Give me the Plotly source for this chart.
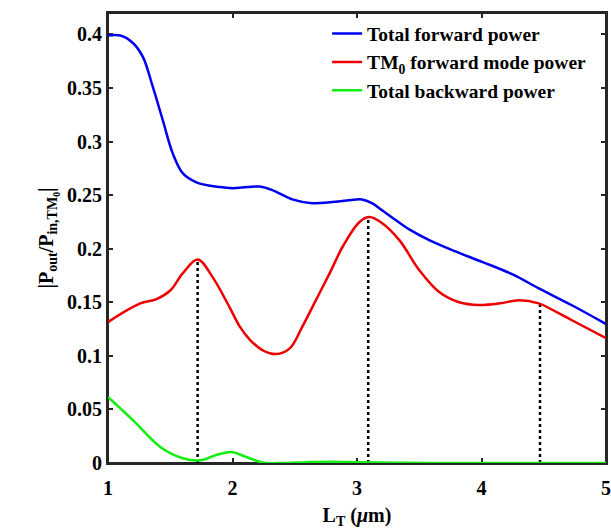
import plotly.graph_objects as go

# Data
x_fwd = [1.0, 1.1, 1.2, 1.28, 1.36, 1.44, 1.52, 1.60, 1.71, 1.90, 2.0, 2.12, 2.22, 2.32, 2.48, 2.64, 2.80, 2.92, 3.04, 3.12, 3.20, 3.29, 3.42, 3.58, 3.80, 4.01, 4.25, 4.46, 4.73, 5.0]
y_fwd = [0.399, 0.399, 0.392, 0.379, 0.351, 0.320, 0.289, 0.2705, 0.262, 0.2575, 0.2565, 0.2575, 0.258, 0.2547, 0.246, 0.2425, 0.2435, 0.245, 0.246, 0.2425, 0.236, 0.2285, 0.218, 0.208, 0.197, 0.1875, 0.176, 0.163, 0.147, 0.1297]

x_tm0 = [1.0, 1.1, 1.26, 1.39, 1.5, 1.60, 1.72, 1.84, 1.98, 2.06, 2.14, 2.24, 2.35, 2.46, 2.56, 2.67, 2.78, 2.89, 3.02, 3.10, 3.20, 3.34, 3.5, 3.66, 3.82, 3.98, 4.15, 4.30, 4.46, 4.6, 4.73, 5.0]
y_tm0 = [0.1315, 0.139, 0.149, 0.153, 0.161, 0.177, 0.190, 0.1735, 0.1446, 0.127, 0.115, 0.1054, 0.1017, 0.107, 0.127, 0.152, 0.177, 0.203, 0.225, 0.2295, 0.224, 0.208, 0.18, 0.1595, 0.150, 0.1474, 0.149, 0.152, 0.149, 0.141, 0.133, 0.1166]

x_bwd = [1.0, 1.2, 1.42, 1.6, 1.74, 1.87, 1.99, 2.11, 2.24, 2.4, 2.6, 2.8, 3.0, 3.3, 3.6, 4.0, 4.5, 5.0]
y_bwd = [0.0616, 0.040, 0.015, 0.0045, 0.0025, 0.0075, 0.0103, 0.0056, 0.0005, 0.0, 0.0008, 0.0012, 0.0008, 0.0003, 0.0, 0.0, 0.0, 0.0]

peak_x = [1.72, 3.09, 4.47]
peak_y = [0.190, 0.229, 0.149]

x_ticks = [1, 2, 3, 4, 5]
y_ticks = [0, 0.05, 0.1, 0.15, 0.2, 0.25, 0.3, 0.35, 0.4]
y_ticktext = ["0", "0.05", "0.1", "0.15", "0.2", "0.25", "0.3", "0.35", "0.4"]
x_range = [1, 5]
y_range = [0, 0.42]

FONT = "Liberation Serif"
AXC = "#262626"

fig = go.Figure()

for px, py in zip(peak_x, peak_y):
    fig.add_trace(go.Scatter(x=[px, px], y=[0, py], mode="lines",
                             line=dict(color="black", width=2.5, dash="dot"),
                             showlegend=False, hoverinfo="skip"))

fig.add_trace(go.Scatter(x=x_fwd, y=y_fwd, mode="lines", name="Total forward power",
                         line=dict(color="#0000ee", width=2.5, shape="spline", smoothing=1.0)))
fig.add_trace(go.Scatter(x=x_tm0, y=y_tm0, mode="lines", name="TM<sub>0</sub> forward mode power",
                         line=dict(color="#ee0000", width=2.5, shape="spline", smoothing=1.0)))
fig.add_trace(go.Scatter(x=x_bwd, y=y_bwd, mode="lines", name="Total backward power",
                         line=dict(color="#11ee11", width=2.5, shape="spline", smoothing=1.0)))

axis_common = dict(showline=True, linecolor=AXC, linewidth=2, mirror="allticks",
                   ticks="inside", ticklen=5, tickwidth=2, tickcolor=AXC,
                   showgrid=False, zeroline=False, layer="below traces",
                   tickfont=dict(family=FONT, size=20, color="black", weight="bold"))

fig.update_layout(
    xaxis=dict(range=x_range, tickvals=x_ticks, ticklabeloverflow="allow", ticklabelstandoff=6,
               title=dict(text="L<sub>T</sub> (<i>μ</i>m)", font=dict(family=FONT, size=20, color="black", weight="bold"), standoff=10),
               **axis_common),
    yaxis=dict(range=y_range, tickvals=y_ticks, ticktext=y_ticktext,
               title=dict(text="|P<sub>out</sub>/P<sub>in,TM<sub>0</sub></sub>|", font=dict(family=FONT, size=20, color="black", weight="bold"), standoff=8),
               **axis_common),
)

# frame around the plot area
fig.add_shape(type="rect", xref="paper", yref="paper", x0=0, x1=1, y0=0, y1=1,
              line=dict(color=AXC, width=2), fillcolor="rgba(0,0,0,0)", layer="below")

fig.update_layout(
    width=611, height=531,
    margin=dict(l=108, r=5, t=13, b=68, autoexpand=False),
    paper_bgcolor="white", plot_bgcolor="white",
    font=dict(family=FONT, color="black", weight="bold"),
    legend=dict(x=0.44, y=0.997, xanchor="left", yanchor="top",
                bgcolor="rgba(255,255,255,0)", font=dict(family=FONT, size=19.5, color="black", weight="bold"),
                itemwidth=30, tracegroupgap=0),
)

fig.write_html("out.html")
